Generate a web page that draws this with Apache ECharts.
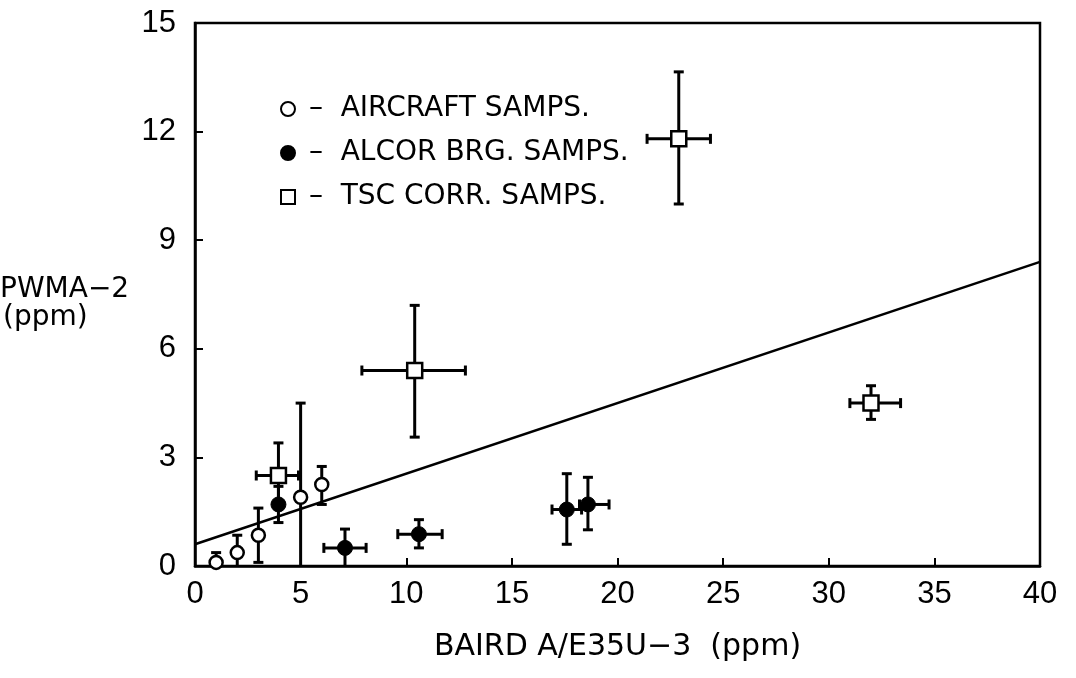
<!DOCTYPE html>
<html>
<head>
<meta charset="utf-8">
<script src="https://cdn.jsdelivr.net/npm/echarts@6/dist/echarts.min.js"></script>
<style>
  html, body { margin: 0; padding: 0; background: #fff; }
  #main { width: 1076px; height: 678px; }
</style>
</head>
<body>
<div id="main"></div>
<script>
// aircraft samples (open circles)
var airX = [1, 2, 3, 5, 6];
var airY = [0.1, 0.37, 0.85, 1.9, 2.25];
var airLo = [0, 0, 0.1, 0, 1.7];
var airHi = [0.37, 0.85, 1.6, 4.5, 2.75];

// alcor brg samples (filled circles)
var alcX = [3.95, 7.1, 10.6, 17.6, 18.6];
var alcY = [1.7, 0.5, 0.88, 1.56, 1.7];
var alcLo = [1.2, 0, 0.5, 0.6, 1.0];
var alcHi = [2.2, 1.02, 1.28, 2.55, 2.45];
var alcXLo = [null, 6.1, 9.6, 16.9, 18.2];
var alcXHi = [null, 8.1, 11.7, 18.3, 19.6];

// tsc corr samples (open squares)
var tscX = [3.95, 10.4, 22.9, 32.0];
var tscY = [2.5, 5.4, 11.8, 4.5];
var tscLo = [1.7, 3.56, 10.0, 4.05];
var tscHi = [3.4, 7.2, 13.65, 4.98];
var tscXLo = [2.9, 7.9, 21.4, 31.0];
var tscXHi = [4.9, 12.8, 24.4, 33.4];

// fitted line
var lineX = [0, 40];
var lineY = [0.6, 8.4];

var NUMFONT = 'Liberation Sans';
var TXTFONT = 'DejaVu Sans';

function rows(xs, ys, lo, hi, xlo, xhi) {
  var out = [];
  for (var i = 0; i < xs.length; i++) {
    out.push([xs[i], ys[i], lo[i], hi[i],
      xlo ? xlo[i] : null, xhi ? xhi[i] : null]);
  }
  return out;
}

// vertical + horizontal error bars with small caps
function errRender(params, api) {
  var x = api.value(0), y = api.value(1);
  var lo = api.value(2), hi = api.value(3);
  var xlo = api.value(4), xhi = api.value(5);
  var cap = 5;
  var kids = [];
  var st = { stroke: '#000', lineWidth: 3 };
  var pLo = api.coord([x, lo]), pHi = api.coord([x, hi]);
  kids.push({ type: 'line', shape: { x1: pLo[0], y1: pLo[1], x2: pHi[0], y2: pHi[1] }, style: st });
  kids.push({ type: 'line', shape: { x1: pHi[0] - cap, y1: pHi[1], x2: pHi[0] + cap, y2: pHi[1] }, style: st });
  if (lo > 0) {
    kids.push({ type: 'line', shape: { x1: pLo[0] - cap, y1: pLo[1], x2: pLo[0] + cap, y2: pLo[1] }, style: st });
  }
  if (xlo != null && !isNaN(xlo) && !isNaN(xhi)) {
    var qL = api.coord([xlo, y]), qR = api.coord([xhi, y]);
    kids.push({ type: 'line', shape: { x1: qL[0], y1: qL[1], x2: qR[0], y2: qR[1] }, style: st });
    kids.push({ type: 'line', shape: { x1: qL[0], y1: qL[1] - cap, x2: qL[0], y2: qL[1] + cap }, style: st });
    kids.push({ type: 'line', shape: { x1: qR[0], y1: qR[1] - cap, x2: qR[0], y2: qR[1] + cap }, style: st });
  }
  return { type: 'group', children: kids };
}

var chart = echarts.init(document.getElementById('main'), null, { renderer: 'canvas' });

var option = {
  animation: false,
  backgroundColor: '#fff',
  textStyle: { fontFamily: TXTFONT, color: '#000' },
  grid: {
    left: 195, right: 36, top: 23, bottom: 112,
    show: true, borderColor: '#000', borderWidth: 2.5, backgroundColor: 'transparent'
  },
  legend: {
    orient: 'vertical',
    left: 275, top: 89,
    itemGap: 14,
    itemWidth: 14, itemHeight: 14,
    textStyle: { fontFamily: TXTFONT, fontSize: 28, lineHeight: 30, color: '#000' },
    data: [
      { name: 'AIRCRAFT SAMPS.', icon: 'circle' },
      { name: 'ALCOR BRG. SAMPS.', icon: 'circle' },
      { name: 'TSC CORR. SAMPS.', icon: 'rect' }
    ],
    formatter: function (n) { return ' \u2013  ' + n; }
  },
  xAxis: {
    type: 'value', min: 0, max: 40, interval: 5,
    name: 'BAIRD A/E35U\u22123  (ppm)',
    nameLocation: 'middle', nameGap: 66,
    nameTextStyle: { fontFamily: TXTFONT, fontSize: 30, color: '#000', verticalAlign: 'top' },
    axisLine: { lineStyle: { color: '#000', width: 2.5 } },
    axisTick: { inside: true, length: 8, lineStyle: { color: '#000', width: 2 } },
    axisLabel: { fontFamily: NUMFONT, fontSize: 31, color: '#000', margin: 13 },
    splitLine: { show: false }
  },
  yAxis: {
    type: 'value', min: 0, max: 15, interval: 3,
    axisLine: { show: true, lineStyle: { color: '#000', width: 2.5 } },
    axisTick: { show: true, inside: true, length: 8, lineStyle: { color: '#000', width: 2 } },
    axisLabel: { fontFamily: NUMFONT, fontSize: 31, color: '#000', margin: 19 },
    splitLine: { show: false }
  },
  graphic: [
    { type: 'text', x: 0, y: 290, style: { text: 'PWMA\u22122', font: '28px "DejaVu Sans"', fill: '#000', verticalAlign: 'middle' } },
    { type: 'text', x: 3, y: 318, style: { text: '(ppm)', font: '28px "DejaVu Sans"', fill: '#000', verticalAlign: 'middle' } }
  ],
  series: [
    {
      type: 'line', name: 'fit', data: lineX.map(function (x, i) { return [x, lineY[i]]; }),
      symbol: 'none', lineStyle: { color: '#000', width: 2.5 }, z: 1
    },
    { type: 'custom', name: 'airErr', renderItem: errRender, data: rows(airX, airY, airLo, airHi), z: 2 },
    { type: 'custom', name: 'alcErr', renderItem: errRender, data: rows(alcX, alcY, alcLo, alcHi, alcXLo, alcXHi), z: 2 },
    { type: 'custom', name: 'tscErr', renderItem: errRender, data: rows(tscX, tscY, tscLo, tscHi, tscXLo, tscXHi), z: 2 },
    {
      type: 'scatter', name: 'AIRCRAFT SAMPS.', symbol: 'circle', symbolSize: 13,
      data: airX.map(function (x, i) { return [x, airY[i]]; }),
      itemStyle: { color: '#fff', borderColor: '#000', borderWidth: 2.5, opacity: 1 }, z: 3
    },
    {
      type: 'scatter', name: 'ALCOR BRG. SAMPS.', symbol: 'circle', symbolSize: 15,
      data: alcX.map(function (x, i) { return [x, alcY[i]]; }),
      itemStyle: { color: '#000', borderColor: '#000', borderWidth: 1, opacity: 1 }, z: 3
    },
    {
      type: 'scatter', name: 'TSC CORR. SAMPS.', symbol: 'rect', symbolSize: 15,
      data: tscX.map(function (x, i) { return [x, tscY[i]]; }),
      itemStyle: { color: '#fff', borderColor: '#000', borderWidth: 2.5, opacity: 1 }, z: 3
    }
  ]
};

chart.setOption(option);
</script>
</body>
</html>
